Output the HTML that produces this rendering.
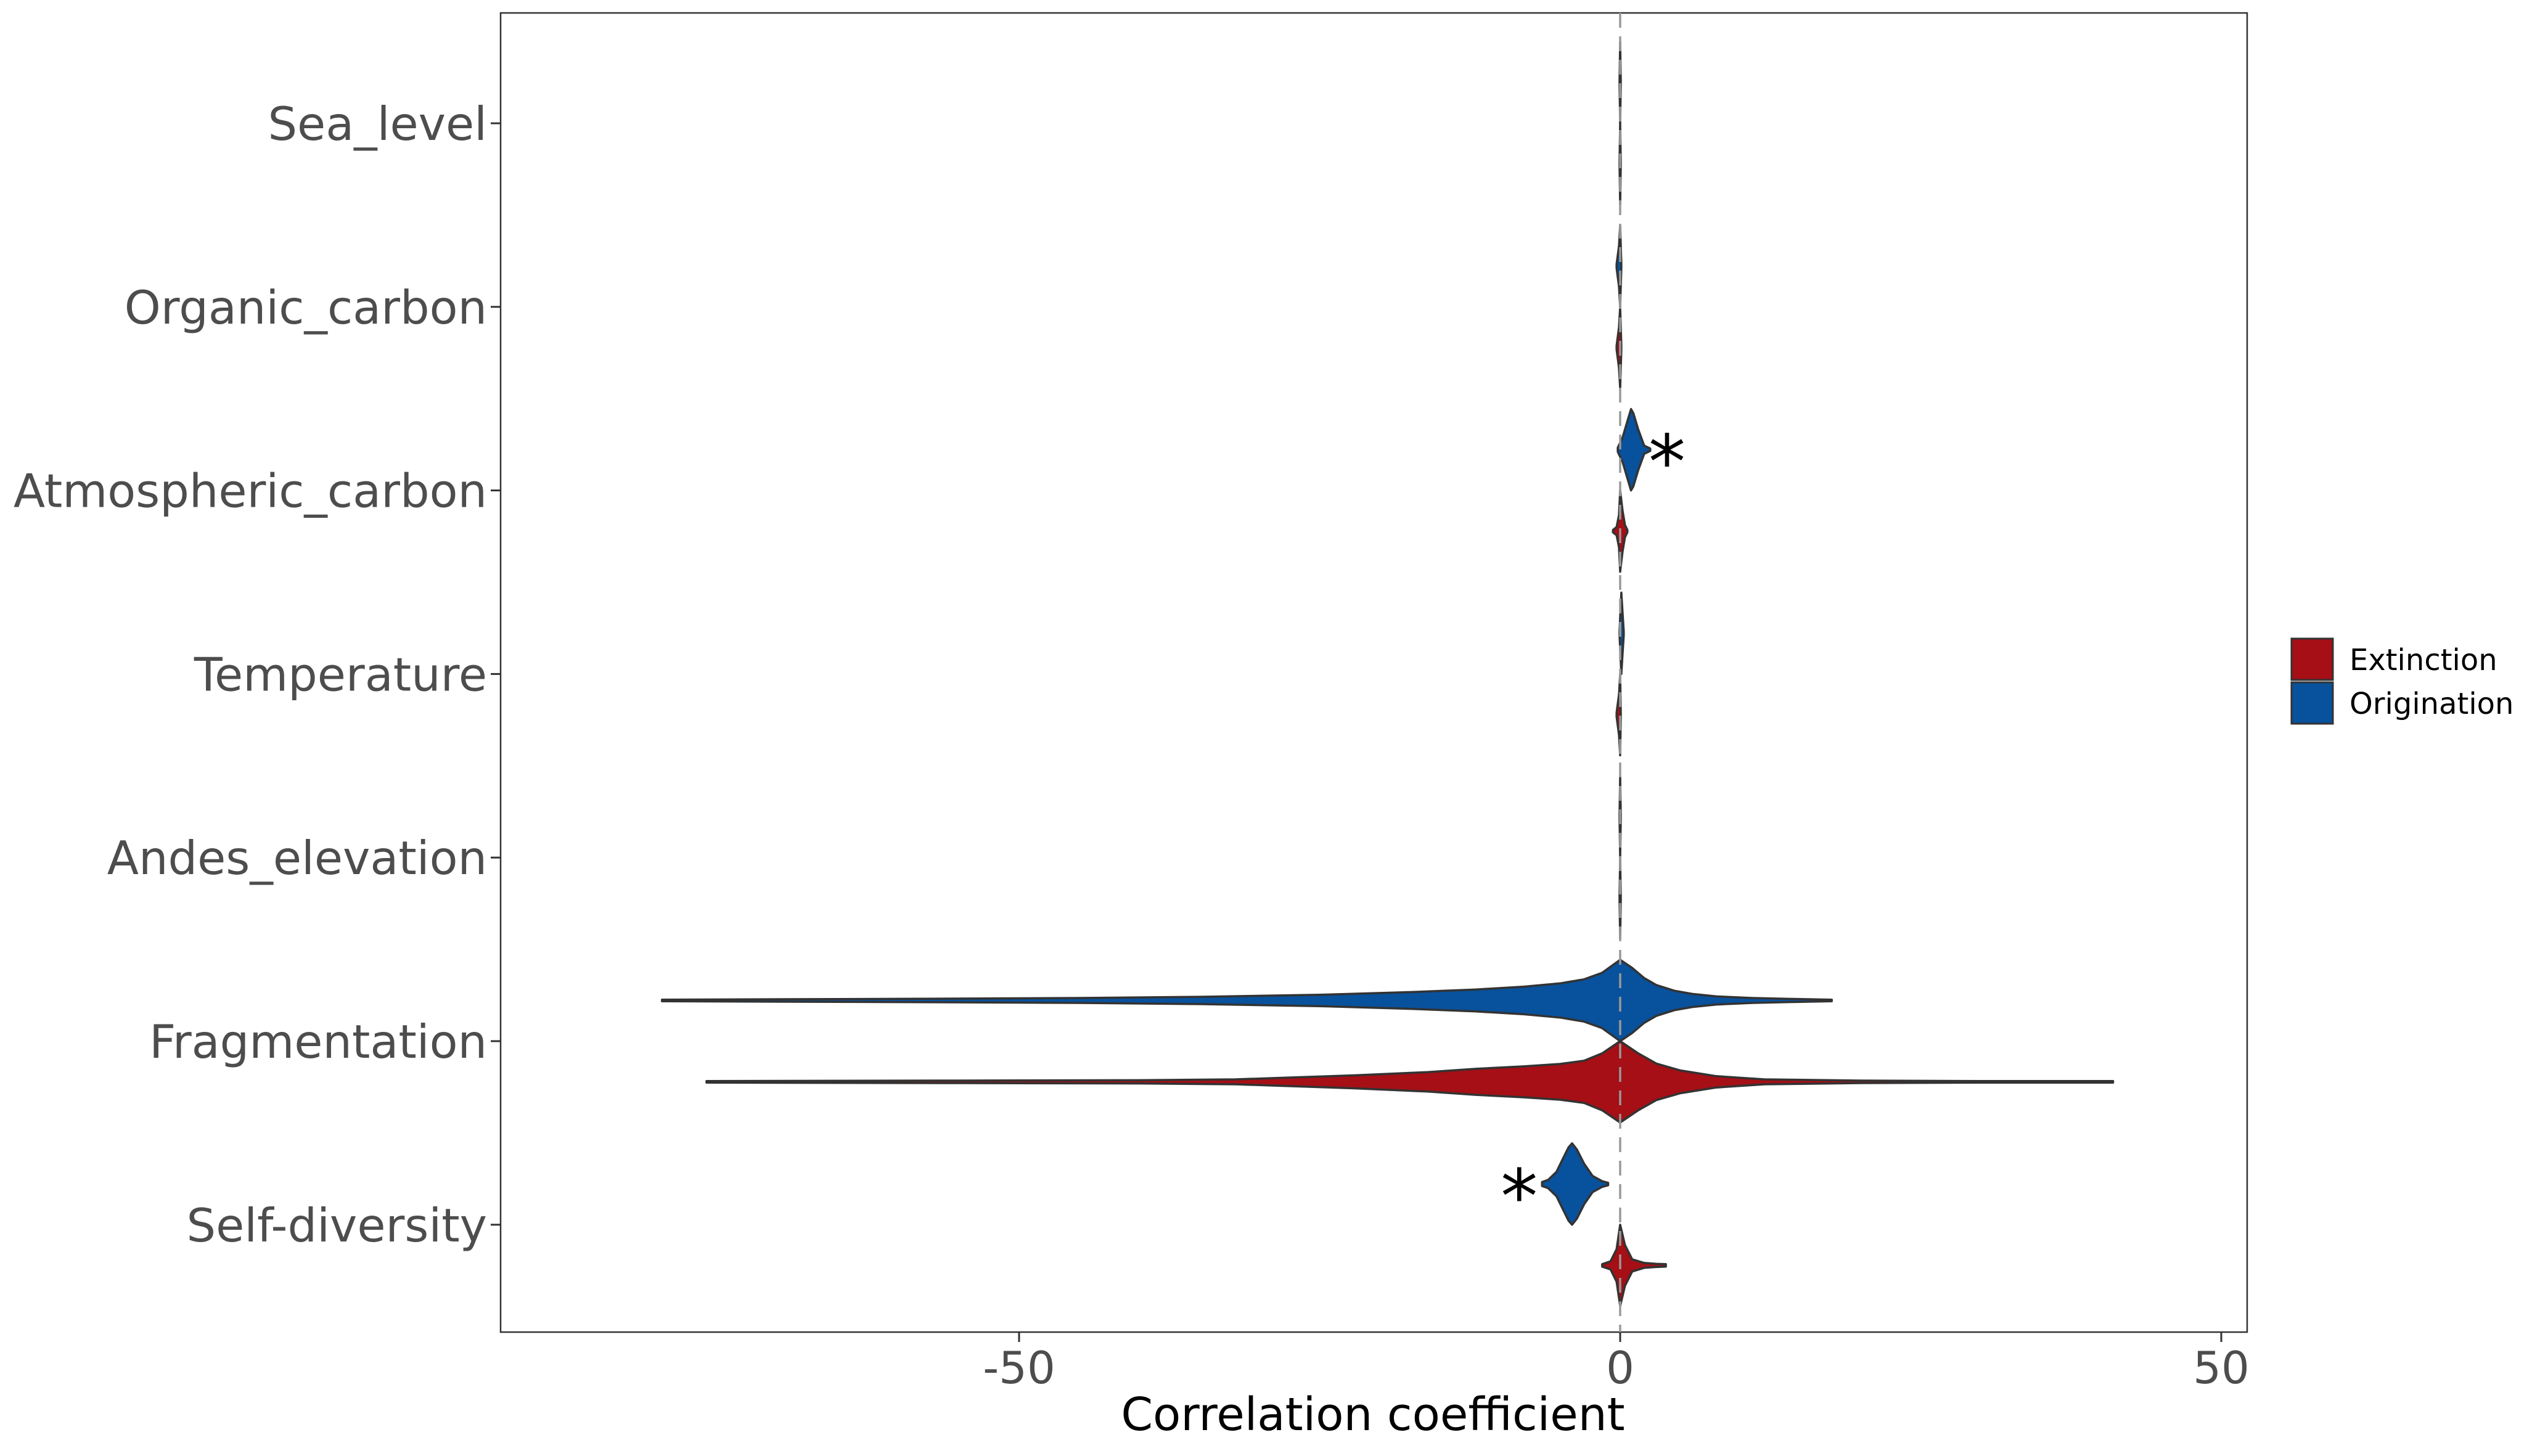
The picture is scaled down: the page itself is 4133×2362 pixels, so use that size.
<!DOCTYPE html>
<html><head><meta charset="utf-8"><style>
body{margin:0;background:#fff}
svg{display:block}
text{font-family:"DejaVu Sans","Liberation Sans",sans-serif}
</style></head><body>
<svg id="c" width="4133" height="2362" viewBox="0 0 4133 2362">
<rect x="0" y="0" width="4133" height="2362" fill="#fff"/>
<rect x="812" y="21" width="2833" height="2140" fill="#fff" stroke="#333" stroke-width="2.5"/>
<g id="marks"></g>
<g id="axes"></g>
<g>
<rect x="3717" y="1036" width="67" height="67" fill="#A50F15" stroke="#333" stroke-width="3"/>
<rect x="3717" y="1107" width="67" height="67" fill="#08519C" stroke="#333" stroke-width="3"/>
<text x="3811" y="1087" font-size="48" fill="#000">Extinction</text>
<text x="3811" y="1158" font-size="48" fill="#000">Origination</text>
</g>
<text x="2227" y="2320" font-size="74" text-anchor="middle" fill="#000">Correlation coefficient</text>
</svg>
<script>
const categories=["Sea_level","Organic_carbon","Atmospheric_carbon","Temperature","Andes_elevation","Fragmentation","Self-diversity"];
const xTicks=[-50,0,50];
const asterisks=[{cat:"Atmospheric_carbon",series:"Origination",x:3.9},{cat:"Self-diversity",series:"Origination",x:-8.4}];
// violin profiles: x values and relative thickness
const origX=[[-0.05,0,0.05],[-0.3,-0.1,0,0.1],[-0.2,0.2,0.6,0.9,1.1,1.5,2,2.5],[-0.05,0,0.1,0.2,0.3],[-0.05,0,0.05],
[-79.7,-60,-45,-35,-25,-18,-12,-8,-5,-3,-1.5,0,1,2,3,4.5,6,8,11,14,17.6],[-6.5,-6,-5.3,-4.8,-4.3,-4,-3.6,-3,-2.3,-1.5,-1]];
const origW=[[0.05,1,0.05],[0.05,0.5,1,0.05],[0.05,0.3,0.7,1,0.9,0.5,0.1,0.03],[0.05,0.4,1,0.5,0.05],[0.05,1,0.05],
[0.02,0.04,0.06,0.09,0.14,0.2,0.27,0.34,0.42,0.52,0.68,1,0.8,0.55,0.38,0.24,0.16,0.1,0.06,0.04,0.02],[0.05,0.1,0.3,0.6,0.9,1,0.85,0.5,0.2,0.07,0.03]];
const extX=[[-0.05,0,0.05],[-0.3,-0.1,0,0.1],[-0.6,-0.3,-0.1,0,0.2,0.4,0.6],[-0.3,-0.1,0,0.05],[-0.05,0,0.05],
[-76,-55,-40,-32,-28,-22,-16,-12,-8,-5,-3,-1.5,0,1.5,3,5,8,12,20,30,41],[-1.5,-0.8,-0.3,0,0.4,1,2,3,3.8]];
const extW=[[0.05,1,0.05],[0.05,0.5,1,0.05],[0.03,0.1,0.4,1,0.5,0.15,0.03],[0.05,0.5,1,0.05],[0.05,1,0.05],
[0.02,0.03,0.04,0.06,0.1,0.16,0.24,0.32,0.38,0.44,0.52,0.7,1,0.7,0.45,0.28,0.14,0.06,0.03,0.02,0.02],[0.03,0.1,0.4,1,0.5,0.15,0.06,0.04,0.03]];

const NS="http://www.w3.org/2000/svg";
const X0=2628, PX=19.5;
function xs(v){return X0+v*PX;}
function yc(i){return 200+i*297.8;}
const OFF=66, H=66;
const marks=document.getElementById('marks'), axes=document.getElementById('axes');
function mk(tag,attrs,parent){const e=document.createElementNS(NS,tag);for(const k in attrs)e.setAttribute(k,attrs[k]);parent.appendChild(e);return e;}
function violin(xa,wa,cy,fill,name){
  let up=[],lo=[];
  for(let i=0;i<xa.length;i++){up.push(xs(xa[i]).toFixed(1)+","+(cy-wa[i]*H).toFixed(1));lo.unshift(xs(xa[i]).toFixed(1)+","+(cy+wa[i]*H).toFixed(1));}
  const p=mk('path',{d:"M"+up.join("L")+"L"+lo.join("L")+"Z",fill:fill,stroke:"#333","stroke-width":3.5,"stroke-linejoin":"round"},marks);
  
  
}
categories.forEach((c,i)=>{
  violin(origX[i],origW[i],yc(i)-OFF,"#08519C","violin-origination-"+c.toLowerCase());
  violin(extX[i],extW[i],yc(i)+OFF,"#A50F15","violin-extinction-"+c.toLowerCase());
  const t=mk('text',{x:790,y:yc(i)+27,"font-size":75,"text-anchor":"end",fill:"#4d4d4d"},axes);
  t.textContent=c;
  
  
  const tk=mk('line',{x1:796,x2:812,y1:yc(i),y2:yc(i),stroke:"#333","stroke-width":3},axes);
  
  
});
const zl=mk('line',{x1:xs(0),x2:xs(0),y1:21,y2:2161,stroke:"#999","stroke-width":3.5,"stroke-dasharray":"24 14"},marks);


xTicks.forEach(v=>{
  const tk=mk('line',{x1:xs(v),x2:xs(v),y1:2161,y2:2177,stroke:"#333","stroke-width":3},axes);
  
  
  const t=mk('text',{x:xs(v),y:2244,"font-size":72,"text-anchor":"middle",fill:"#4d4d4d"},axes);
  t.textContent=v;
  
  
});
asterisks.forEach(a=>{
  const i=categories.indexOf(a.cat);
  const y=yc(i)+(a.series==="Origination"?-OFF:OFF);
  const t=mk('text',{x:xs(a.x),y:y+62,"font-size":120,"text-anchor":"middle",fill:"#000"},marks);
  t.textContent="*";
  
  
});
</script>
</body></html>
